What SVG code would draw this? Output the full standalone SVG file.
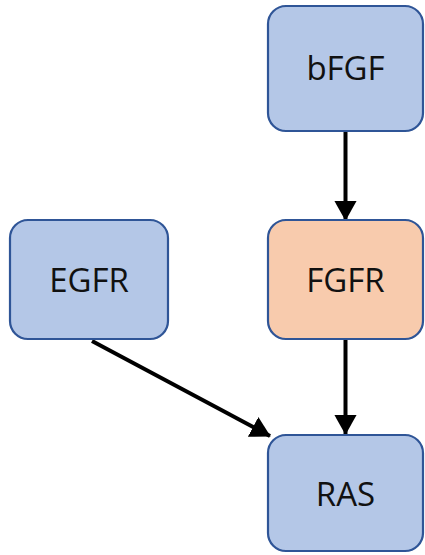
<svg xmlns="http://www.w3.org/2000/svg" width="425" height="555" viewBox="0 0 425 555">
  <style>
    .box { stroke: #2F5597; stroke-width: 2.2; }
    .blue { fill: #B4C7E7; }
    .orange { fill: #F8CBAD; }
    .label { font-family: "Open Sans", "Liberation Sans", sans-serif; font-size: 33px; fill: #111; text-anchor: middle; }
    .edge { stroke: #000; stroke-width: 4; fill: none; marker-end: url(#head); }
  </style>
  <defs>
    <marker id="head" markerWidth="5" markerHeight="5.6" refX="4.8" refY="2.8" orient="auto" markerUnits="strokeWidth">
      <path d="M0,0 L5,2.8 L0,5.6 Z" fill="#000"/>
    </marker>
  </defs>
  <rect width="425" height="555" fill="#fff"/>

  <g id="connectors">
    <line class="edge" x1="345.5" y1="131" x2="345.5" y2="220"/>
    <line class="edge" x1="345.5" y1="339" x2="345.5" y2="434"/>
    <line class="edge" x1="92" y1="341" x2="270" y2="436"/>
  </g>

  <g id="bFGF">
    <rect class="box blue" x="268" y="6" width="155" height="125" rx="18"/>
    <text class="label" x="345.5" y="80">bFGF</text>
  </g>
  <g id="EGFR">
    <rect class="box blue" x="10" y="220" width="158" height="119" rx="18"/>
    <text class="label" x="89" y="292">EGFR</text>
  </g>
  <g id="FGFR">
    <rect class="box orange" x="268" y="220" width="155" height="119" rx="18"/>
    <text class="label" x="345.5" y="292">FGFR</text>
  </g>
  <g id="RAS">
    <rect class="box blue" x="268" y="435" width="155" height="116" rx="18"/>
    <text class="label" x="345.5" y="506">RAS</text>
  </g>
</svg>
